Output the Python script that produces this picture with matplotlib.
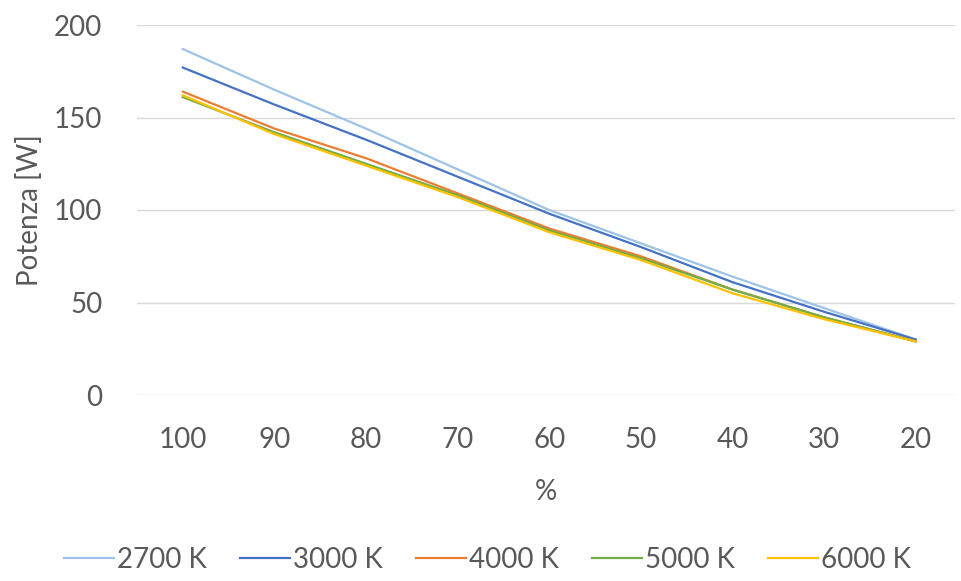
import numpy as np
import matplotlib.pyplot as plt

# dimming level (%) and power (W) per colour temperature
percent = ['100', '90', '80', '70', '60', '50', '40', '30', '20']
series_names = ['2700 K', '3000 K', '4000 K', '5000 K', '6000 K']
p2700 = [187, 165, 144, 122, 100, 82, 64, 47, 30]
p3000 = [177, 157, 138, 118, 98, 80, 61, 45, 30]
p4000 = [164, 144, 128, 109, 90, 75, 57, 42, 29]
p5000 = [161, 142, 125, 108, 89, 74, 57, 42, 29]
p6000 = [162, 141, 124, 107, 88, 73, 55, 41, 29]
colors = ['#9dc3e6', '#4472c4', '#ed7d31', '#70ad47', '#ffc000']

plt.rcParams['font.family'] = ['Lato', 'DejaVu Sans']
grey = '#595959'

fig = plt.figure(figsize=(9.61, 5.81), dpi=100)
ax = fig.add_axes([137 / 961, 186 / 581, 818 / 961, 370 / 581])

x = np.arange(len(percent))
for vals, name, c in zip([p2700, p3000, p4000, p5000, p6000], series_names, colors):
	ax.plot(x, vals, color=c, lw=1.6, label=name)

ax.set_xlim(-0.5, 8.43)
ax.set_ylim(0, 200)
ax.set_yticks([0, 50, 100, 150, 200])
ax.set_xticks(x)
ax.set_xticklabels(percent)
ax.grid(True, axis='y', color='#d9d9d9', lw=1)
ax.set_axisbelow(True)
for s in ax.spines.values():
	s.set_visible(False)
ax.tick_params(length=0, labelsize=20, labelcolor=grey)
ax.tick_params(axis='x', pad=23)
ax.tick_params(axis='y', pad=25)
ax.set_xlabel('%', fontsize=20, color=grey, labelpad=19)
ax.set_ylabel('Potenza [W]', fontsize=20, color=grey, labelpad=8)

fig.legend(loc='center', bbox_to_anchor=(0.507, 1 - 560 / 581), ncol=5, frameon=False,
	fontsize=20, labelcolor=grey, handlelength=1.8, handletextpad=0.1, columnspacing=1.2)

fig.savefig('out.png', dpi=100)
